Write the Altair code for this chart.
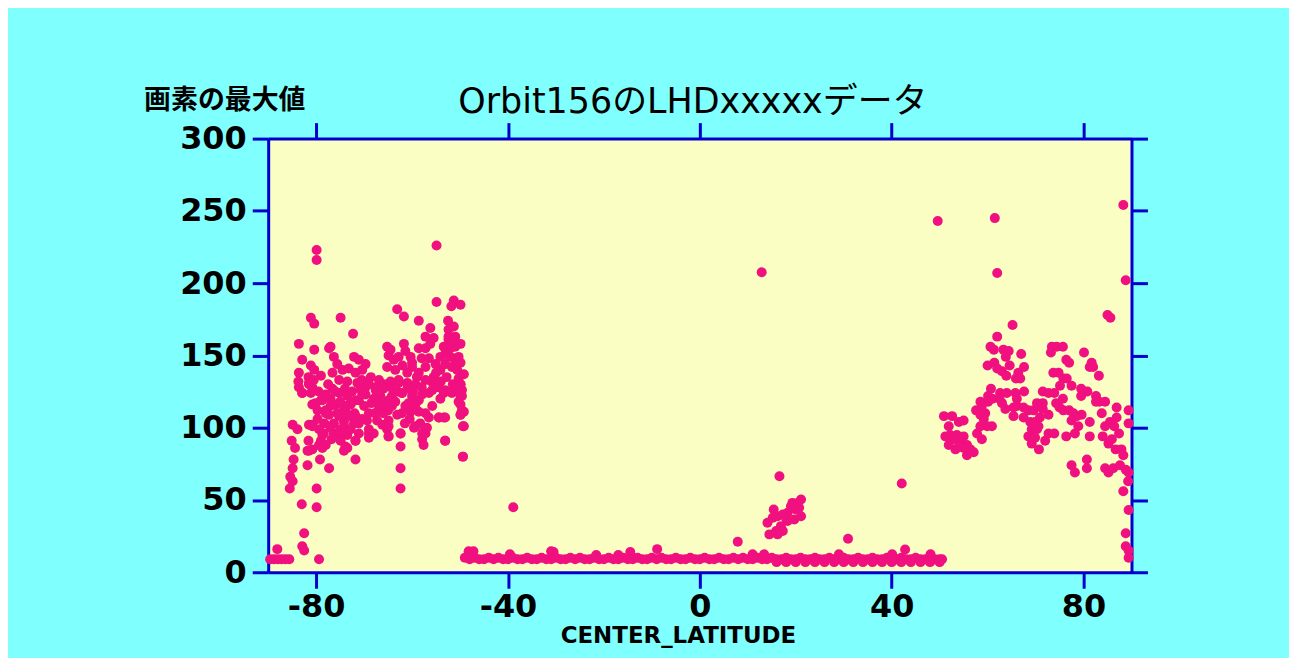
import altair as alt
import pandas as pd

# ---------------- data ----------------
x_ticks = [-80, -40, 0, 40, 80]
y_ticks = [0, 50, 100, 150, 200, 250, 300]

# southern cluster (lat -90 .. -49)
left_lat = [
    -89.6, -88.8, -88.0, -87.2, -86.4, -85.6, -88.1, -82.9, -82.5, -82.5,
    -79.4, -83.0, -79.9, -79.9, -85.5, -84.9, -85.4, -84.9, -84.7, -84.4,
    -85.1, -83.9, -84.9, -83.6, -81.5, -82.9, -81.1,
    -80.8, -79.7, -78.7, -77.0, -75.9, -78.0, -77.3, -75.2, -76.3, -78.3,
    -79.4, -80.8, -81.5, -78.7, -79.0, -78.0, -80.8, -81.8, -79.2, -77.3,
    -81.8, -75.6, -74.5, -73.5, -74.9, -74.2, -73.5, -71.8, -71.8, -73.2,
    -72.1, -74.2, -74.9, -73.9, -72.8, -71.1, -69.7, -71.1, -69.4, -69.0,
    -69.0, -68.0, -67.3, -66.9, -65.5, -64.9, -66.6, -67.6, -64.5, -62.8,
    -62.1, -60.7, -60.3, -62.1, -63.1, -64.9, -65.2, -64.9, -62.4, -62.4,
    -62.4, -62.4, -59.3, -58.3, -57.6, -57.9, -57.2, -56.5, -57.2, -58.6,
    -55.8, -54.1, -53.1, -55.1, -56.5, -58.6, -53.4, -54.4, -53.1, -51.7,
    -49.9, -49.9, -49.9, -49.2, -49.9, -49.2, -49.4,
    -83.6, -83.7, -82.9, -81.1, -80.4, -81.6, -81.5, -80.8, -82.9, -79.0,
    -77.3, -76.3, -75.6, -76.6, -74.5, -73.2, -72.1, -71.1, -69.7, -70.4,
    -71.8, -75.2, -73.5, -71.4, -70.0, -69.7, -76.6, -78.0, -79.0, -75.2,
    -73.5, -71.8, -70.4, -72.8, -74.2, -67.6, -66.9, -68.0, -65.9, -64.5,
    -65.2, -64.5, -64.9, -63.8, -62.8, -61.4, -60.3, -58.6, -57.2, -56.2,
    -56.5, -55.1, -57.2, -58.6, -60.0, -61.0, -62.8, -61.0, -59.3, -57.2,
    -55.5, -54.1, -53.1, -52.0, -51.0, -51.7, -50.6, -50.3, -49.9, -53.1,
    -52.0, -51.0, -53.4, -51.3, -52.4, -54.1, -54.4, -55.8, -53.4, -51.7,
    -49.6, -50.3, -66.9, -68.6, -64.2, -62.1, -60.0, -57.9, -59.3, -61.4,
    -64.2, -77.0, -80.1, -78.0, -79.7, -80.8, -75.6, -73.9, -71.8, -70.4,
    -69.0, -66.9, -69.0, -71.1, -72.8, -74.9, -76.3, -78.4, -73.9, -71.8,
    -81.6, -79.4, -81.5, -78.7, -64.9, -64.9, -62.4, -59.6, -57.9, -57.6,
    -56.9, -54.4, -53.1, -53.1, -49.9, -49.6, -49.4, -49.4,
    -79.9, -79.9, -54.9, -54.9, -51.3, -49.9, -51.8, -81.1, -80.4, -74.9,
    -63.1, -61.7, -72.3, -58.6, -56.2, -52.5, -51.3, -52.4, -51.0, -52.4,
    -83.6, -80.4, -77.0, -61.7, -49.9, -55.5, -65.2, -57.2, -50.3, -49.9,
    -49.2, -49.6,
    -77.5, -76.0, -74.0, -72.5, -70.8, -69.0, -67.0, -66.0, -65.0, -63.5,
    -63.0, -61.0, -59.8, -59.0, -58.0, -56.0, -55.0, -54.0, -52.8, -51.5,
    -50.5, -60.5, -61.5, -66.2, -67.8, -70.0, -72.0, -75.0, -77.0, -76.8,
    -73.0, -68.5, -66.0, -60.0, -58.0, -62.0, -63.5, -70.5, -79.5, -80.5,
]
left_val = [
    9, 9, 9, 9, 9, 9, 16, 18, 15, 27,
    9, 47, 45, 58, 58, 63, 66, 72, 78, 86,
    91, 99, 102, 128, 130, 124, 124,
    116, 112, 119, 120, 116, 112, 109, 108, 103, 103,
    99, 102, 102, 95, 91, 88, 85, 84, 78, 72,
    74, 96, 96, 95, 91, 84, 86, 91, 78, 99,
    103, 104, 109, 112, 116, 119, 123, 103, 105, 96,
    93, 96, 105, 112, 116, 119, 122, 126, 128, 131,
    124, 117, 111, 110, 109, 105, 99, 94, 96, 87,
    72, 58, 101, 103, 97, 92, 96, 107, 110, 111,
    115, 120, 126, 128, 124, 119, 107, 107, 91, 124,
    130, 122, 116, 111, 109, 101, 80,
    138, 132, 147, 143, 140, 135, 131, 128, 124, 136,
    155, 149, 144, 138, 140, 141, 149, 147, 144, 140,
    138, 133, 132, 131, 132, 128, 127, 123, 119, 124,
    122, 119, 123, 117, 113, 128, 124, 120, 130, 132,
    142, 154, 150, 147, 149, 153, 149, 155, 155, 158,
    148, 144, 142, 138, 142, 138, 133, 131, 130, 133,
    135, 140, 144, 149, 147, 142, 140, 134, 130, 151,
    155, 156, 156, 160, 161, 149, 128, 126, 124, 125,
    122, 118, 133, 135, 122, 124, 122, 123, 116, 115,
    115, 115, 117, 110, 106, 101, 110, 115, 108, 106,
    110, 115, 99, 96, 99, 99, 96, 96, 87, 91,
    91, 88, 84, 86, 101, 94, 96, 100, 96, 88,
    100, 107, 107, 91, 109, 112, 101, 80,
    223, 216, 226, 187, 188, 185, 184, 176, 172, 176,
    182, 177, 165, 174, 169, 174, 170, 168, 163, 163,
    158, 154, 156, 158, 158, 162, 156, 163, 149, 145,
    137, 126,
    130, 125, 127, 125, 127, 130, 118, 110, 112, 118,
    125, 127, 125, 135, 128, 132, 138, 132, 135, 130,
    126, 106, 103, 102, 110, 115, 110, 118, 100, 92,
    108, 117, 127, 145, 148, 143, 140, 133, 125, 133,
]

# northern cluster (lat 49 .. 90)
right_lat = [
    49.6, 61.5, 88.3, 62.0, 88.8, 85.0, 85.6, 65.2, 62.0, 60.6,
    61.3, 63.3, 64.4, 63.8, 67.0, 73.4, 74.4, 75.7, 73.2, 76.4,
    77.0, 80.1, 81.7, 82.0, 81.3, 83.2, 60.0, 61.4, 62.0, 63.0,
    63.9, 64.6, 67.6, 66.4, 65.9, 66.8, 73.7, 74.8, 75.8, 76.5,
    75.1, 77.5, 79.5, 80.8, 79.5, 60.7, 62.6, 64.0, 65.8, 67.6,
    71.5, 72.7, 73.9, 75.7, 82.6, 83.3, 84.5, 82.6, 86.9, 89.4,
    89.4, 60.1, 58.5, 60.1, 61.0, 62.5, 63.0, 63.7, 66.1, 66.1,
    65.4, 67.5, 68.5, 69.6, 65.4, 71.5, 70.3, 71.5, 72.7, 74.3,
    75.0, 75.8, 77.0, 77.9, 79.6, 78.6, 77.5, 78.9, 78.2, 57.6,
    58.8, 58.5, 59.5, 59.2, 58.5, 57.8, 58.8, 59.9, 60.9, 50.9,
    52.6, 54.0, 55.0, 51.9, 51.2, 52.2, 53.6, 55.0, 51.9, 53.3,
    54.3, 55.7, 56.4, 55.7, 57.1, 55.0, 52.8, 54.0, 67.5, 68.9,
    69.9, 70.9, 69.2, 70.3, 70.6, 68.5, 69.2, 69.9, 70.7, 72.0,
    72.7, 73.9, 76.4, 77.5, 78.2, 80.7, 80.7, 81.3, 81.3, 83.8,
    84.5, 84.0, 85.5, 86.4, 86.9, 87.4, 85.2, 85.9, 86.7, 87.9,
    88.3, 84.5, 85.2, 86.2, 87.6, 88.8, 89.4, 89.3, 88.3, 89.4,
    88.8, 88.8, 89.4, 89.4,
]
right_val = [
    243, 245, 254, 207, 202, 178, 176, 171, 163, 156,
    154, 154, 153, 149, 151, 156, 156, 156, 152, 147,
    145, 152, 145, 142, 142, 136, 143, 145, 141, 139,
    136, 143, 142, 138, 134, 134, 138, 138, 134, 134,
    129, 129, 127, 125, 122, 127, 124, 124, 124, 125,
    125, 124, 124, 120, 122, 118, 118, 118, 114, 112,
    103, 122, 118, 118, 120, 120, 117, 113, 120, 115,
    114, 114, 112, 112, 108, 113, 117, 117, 109, 117,
    114, 112, 112, 110, 109, 108, 105, 101, 96, 112,
    115, 109, 110, 106, 101, 96, 92, 101, 101, 108,
    108, 104, 105, 101, 94, 95, 95, 94, 88, 85,
    91, 88, 85, 81, 83, 86, 92, 87, 107, 104,
    104, 107, 99, 99, 101, 94, 89, 93, 85, 91,
    96, 96, 94, 74, 69, 78, 72, 104, 94, 110,
    101, 94, 104, 101, 107, 96, 89, 92, 85, 85,
    81, 72, 69, 72, 74, 71, 69, 63, 56, 43,
    27, 18, 15, 10,
]

# equatorial scatter above the floor
mid_lat = [
    -48.2, -47.2, -39.6, -31.0, -38.9, -30.5, -21.6, -17.0, -14.5, -8.9,
    7.9, 30.9, 12.9, 42.1, 42.8, 16.6, 11.0, 13.4, 29.0, 40.1,
    48.1, 15.4, 14.1, 15.2, 16.2, 17.3, 18.3, 19.3, 20.4, 21.1,
    20.7, 21.1, 19.7, 18.3, 16.9, 15.9, 14.5, 17.3, 16.2, 19.0,
    20.0, 18.0,
]
mid_val = [
    14.5, 14.5, 12.4, 14.5, 45.0, 14.0, 12.0, 12.0, 14.0, 16.0,
    21.1, 23.2, 207.6, 61.4, 15.8, 66.4, 12.4, 12.4, 12.4, 12.4,
    12.4, 43.4, 34.2, 37.7, 38.8, 40.0, 41.1, 48.0, 48.0, 50.3,
    44.6, 38.8, 36.5, 35.4, 31.9, 28.5, 26.2, 28.5, 26.2, 45.7,
    43.4, 37.0,
]

# floor of near-constant values
base_lat = [
    -49, -48, -47, -46, -45, -44, -43, -42, -41, -40,
    -39, -38, -37, -36, -35, -34, -33, -32, -31, -30,
    -29, -28, -27, -26, -25, -24, -23, -22, -21, -20,
    -19, -18, -17, -16, -15, -14, -13, -12, -11, -10,
    -9, -8, -7, -6, -5, -4, -3, -2, -1, 0,
    1, 2, 3, 4, 5, 6, 7, 8, 9, 10,
    11, 12, 13, 14, 15, 16, 17, 18, 19, 20,
    21, 22, 23, 24, 25, 26, 27, 28, 29, 30,
    31, 32, 33, 34, 35, 36, 37, 38, 39, 40,
    41, 42, 43, 44, 45, 46, 47, 48, 49, 50,
    50.5,
    16, 18, 20, 22, 24, 26, 28, 30, 32, 34,
    36, 38, 40, 42, 44, 46, 48, 50,
]
base_val = [
    10, 9, 10, 9, 9, 10, 9, 10, 9, 9,
    10, 9, 9, 10, 9, 9, 10, 9, 9, 10,
    9, 9, 10, 9, 10, 9, 9, 10, 9, 9,
    10, 9, 9, 10, 9, 9, 10, 9, 9, 10,
    9, 10, 9, 9, 10, 9, 9, 10, 9, 9,
    10, 9, 9, 10, 9, 9, 10, 9, 10, 9,
    9, 10, 9, 9, 10, 9, 9, 10, 9, 9,
    10, 9, 9, 10, 9, 9, 10, 9, 9, 10,
    9, 9, 10, 9, 9, 10, 9, 9, 10, 9,
    9, 10, 9, 9, 10, 9, 9, 10, 9, 9,
    9,
    7, 7, 7, 7, 7, 7, 7, 7, 7, 7,
    7, 7, 7, 7, 7, 7, 7, 7,
]

lat = left_lat + mid_lat + base_lat + right_lat
val = left_val + mid_val + base_val + right_val
df = pd.DataFrame({"lat": lat, "val": val})

# ---------------- styling ----------------
BLUE = "#0000CC"
PINK = "#F0107F"
CYAN = "#80FFFF"
PLOT_BG = "#FAFEC2"
LABEL_FONT = "DejaVu Sans"

xscale = alt.Scale(domain=[-90, 90], nice=False, zero=False)
yscale = alt.Scale(domain=[0, 300], nice=False, zero=True)

common_axis = dict(
    grid=False,
    domainColor=BLUE, domainWidth=3,
    tickColor=BLUE, tickWidth=3, tickSize=16,
    labelFlush=False, labelOverlap=False,
)

x_bottom = alt.Axis(
    orient="bottom", values=x_ticks, title="CENTER_LATITUDE",
    labelExpr="datum.value < 0 ? '-' + abs(datum.value) : datum.label",
    labelFont=LABEL_FONT, labelFontWeight="bold", labelFontSize=32,
    labelColor="black", labelPadding=3,
    titleFont=LABEL_FONT, titleFontWeight="bold", titleFontSize=23,
    titleColor="black", titleX=411, titleY=70, titleAlign="center",
    titleBaseline="alphabetic",
    **common_axis,
)
y_left = alt.Axis(
    orient="left", values=y_ticks, title="画素の最大値",
    labelFont=LABEL_FONT, labelFontWeight="bold", labelFontSize=32,
    labelColor="black", labelPadding=6,
    titleFont="Noto Sans CJK JP", titleFontWeight="bold", titleFontSize=27,
    titleColor="black", titleAngle=0, titleX=-125, titleY=-38,
    titleAlign="left", titleBaseline="middle",
    **common_axis,
)
x_top = alt.Axis(orient="top", values=x_ticks, labels=False, title="", **common_axis)
y_right = alt.Axis(orient="right", values=y_ticks, labels=False, title="", **common_axis)

points = alt.Chart(df).mark_circle(size=100, opacity=1, color=PINK).encode(
    x=alt.X("lat:Q", scale=xscale, axis=x_bottom),
    y=alt.Y("val:Q", scale=yscale, axis=y_left),
)

frame = alt.Chart(df).mark_point(opacity=0).encode(
    x=alt.X("lat:Q", scale=xscale, axis=x_top),
    y=alt.Y("val:Q", scale=yscale, axis=y_right),
)

chart = alt.layer(points, frame).resolve_axis(
    x="independent", y="independent"
).properties(
    width=866,
    height=435,
    background=CYAN,
    padding={"left": 261, "top": 130, "right": 158, "bottom": 85},
    autosize=alt.AutoSizeParams(type="none"),
    title=alt.TitleParams(
        text="Orbit156のLHDxxxxxデータ",
        font="DejaVu Sans, Noto Sans CJK JP",
        fontSize=35, fontWeight="normal", color="black",
        anchor="middle", frame="group", offset=21,
        baseline="alphabetic", dx=-7, dy=82,
    ),
).configure_view(
    fill=PLOT_BG, stroke="transparent"
)

chart.save("out.html", embed_options={"renderer": "svg", "actions": False})
